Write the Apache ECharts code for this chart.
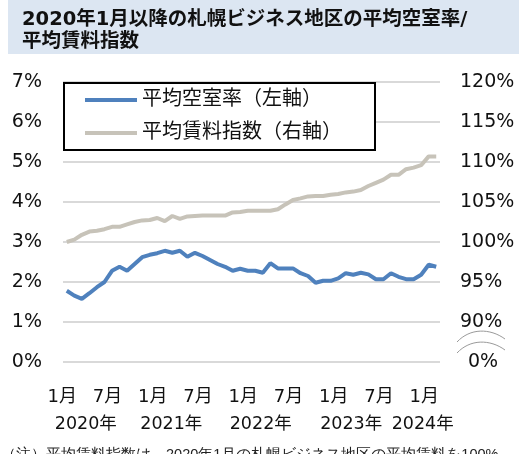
<!DOCTYPE html>
<html>
<head>
<meta charset="utf-8">
<script src="https://cdn.jsdelivr.net/npm/echarts@6/dist/echarts.min.js"></script>
<style>
  html, body { margin: 0; padding: 0; background: #fff; }
  #chart { width: 519px; height: 454px; }
</style>
</head>
<body>
<div id="chart"></div>
<script>
// 月次 2020/1 〜 2024/2
const months = [
  '2020/1','2020/2','2020/3','2020/4','2020/5','2020/6','2020/7','2020/8','2020/9','2020/10','2020/11','2020/12',
  '2021/1','2021/2','2021/3','2021/4','2021/5','2021/6','2021/7','2021/8','2021/9','2021/10','2021/11','2021/12',
  '2022/1','2022/2','2022/3','2022/4','2022/5','2022/6','2022/7','2022/8','2022/9','2022/10','2022/11','2022/12',
  '2023/1','2023/2','2023/3','2023/4','2023/5','2023/6','2023/7','2023/8','2023/9','2023/10','2023/11','2023/12',
  '2024/1','2024/2'
];
// 平均空室率（%）
const vacancy = [
  1.78, 1.66, 1.58, 1.72, 1.87, 2.00, 2.28, 2.38, 2.28, 2.45, 2.62, 2.68,
  2.72, 2.78, 2.73, 2.78, 2.63, 2.73, 2.65, 2.55, 2.45, 2.38, 2.28, 2.33,
  2.28, 2.28, 2.23, 2.47, 2.34, 2.34, 2.34, 2.22, 2.15, 1.98, 2.03, 2.03,
  2.09, 2.22, 2.18, 2.23, 2.19, 2.07, 2.07, 2.22, 2.13, 2.07, 2.07, 2.18,
  2.43, 2.38
];
// 平均賃料指数（2020年1月=100）
const rentIndex = [
  100.0, 100.3, 100.9, 101.3, 101.4, 101.6, 101.9, 101.9, 102.2, 102.5, 102.7, 102.75,
  103.0, 102.6, 103.25, 102.9, 103.2, 103.25, 103.3, 103.3, 103.3, 103.3, 103.7, 103.75,
  103.9, 103.9, 103.9, 103.9, 104.1, 104.7, 105.25, 105.45, 105.7, 105.75, 105.75, 105.9,
  106.0, 106.2, 106.3, 106.5, 107.0, 107.4, 107.8, 108.4, 108.4, 109.1, 109.3, 109.6,
  110.7, 110.7
];
const years = ['2020年', '2021年', '2022年', '2023年', '2024年'];
const seriesNames = ['平均空室率（左軸）', '平均賃料指数（右軸）'];

const FONT = "'DejaVu Sans', 'Noto Sans CJK JP', sans-serif";
const LINE_ICON = 'path://M0,0H52V4H0Z';
const chart = echarts.init(document.getElementById('chart'));

const option = {
  backgroundColor: '#fff',
  animation: false,
  textStyle: { fontFamily: FONT, color: '#111' },
  title: {
    text: '2020年1月以降の札幌ビジネス地区の平均空室率/\n平均賃料指数',
    left: 22,
    top: 9,
    padding: 0,
    textStyle: { fontSize: 19.5, fontWeight: 'bold', lineHeight: 22, color: '#111', fontFamily: FONT }
  },
  legend: {
    orient: 'vertical',
    left: 64,
    top: 83,
    padding: [7, 33, 7, 21],
    itemGap: 13,
    itemWidth: 52,
    itemHeight: 20,
    borderColor: '#000',
    borderWidth: 2,
    backgroundColor: '#fff',
    textStyle: { fontSize: 20, color: '#111', fontFamily: FONT },
    data: seriesNames.map((n) => ({ name: n, icon: LINE_ICON }))
  },
  grid: { left: 63, right: 79, top: 82, bottom: 92 },
  xAxis: {
    type: 'category',
    data: months,
    boundaryGap: true,
    axisLine: { show: false },
    axisTick: { show: false },
    axisLabel: {
      interval: (i) => i % 6 === 0,
      formatter: (v) => v.split('/')[1] + '月',
      fontSize: 18,
      margin: 26,
      padding: [0, 9, 0, 0],
      color: '#111'
    }
  },
  yAxis: [
    {
      type: 'value',
      min: 0,
      max: 7,
      interval: 1,
      axisLine: { show: false },
      axisTick: { show: false },
      axisLabel: { formatter: '{value}%', fontSize: 19, margin: 21, color: '#111' },
      splitLine: { lineStyle: { color: '#d9d9d9', width: 2 } }
    },
    {
      type: 'value',
      min: 85,
      max: 120,
      interval: 5,
      position: 'right',
      axisLine: { show: false },
      axisTick: { show: false },
      splitLine: { show: false },
      axisLabel: {
        fontSize: 19,
        margin: 20,
        color: '#111',
        formatter: (v) => (v === 85 ? '{z|0%}' : v + '%'),
        rich: { z: { fontSize: 19, color: '#111', padding: [0, 0, 0, 8] } }
      }
    }
  ],
  series: [
    {
      name: seriesNames[0],
      type: 'line',
      yAxisIndex: 0,
      data: vacancy,
      symbol: 'none',
      color: '#4f81bd',
      lineStyle: { width: 4, color: '#4f81bd' },
      z: 3
    },
    {
      name: seriesNames[1],
      type: 'line',
      yAxisIndex: 1,
      data: rentIndex,
      symbol: 'none',
      color: '#c7c3b9',
      lineStyle: { width: 4, color: '#c7c3b9' },
      z: 2
    }
  ],
  graphic: [
    { type: 'rect', z: -10, shape: { x: 8, y: 0, width: 511, height: 54 }, style: { fill: '#dce6f2' } },
    // 軸の省略記号
    {
      type: 'bezierCurve', shape: { x1: 457, y1: 342, x2: 505, y2: 339, cpx1: 470, cpy1: 328, cpx2: 490, cpy2: 328 },
      style: { stroke: '#9a9a9a', lineWidth: 1, fill: null }
    },
    {
      type: 'bezierCurve', shape: { x1: 457, y1: 353, x2: 505, y2: 350, cpx1: 470, cpy1: 339, cpx2: 490, cpy2: 339 },
      style: { stroke: '#9a9a9a', lineWidth: 1, fill: null }
    },
    {
      type: 'text', left: 1, top: 447,
      style: { text: '（注）平均賃料指数は、2020年1月の札幌ビジネス地区の平均賃料を100%', fontSize: 14.5, fill: '#222', font: '14.5px ' + FONT }
    }
  ]
};
chart.setOption(option);

// 年ラベル（各年の1月の位置から少しずらして置く）
const janIdx = [0, 12, 24, 36, 48];
const yearShift = [-12, -17, -18, -18, -6];
const yearGraphics = years.map((y, k) => {
  const px = chart.convertToPixel({ xAxisIndex: 0 }, janIdx[k]);
  const last = k === years.length - 1;
  return {
    type: 'text',
    x: px + yearShift[k],
    y: 424,
    style: {
      text: y,
      fontSize: 17.5,
      fontFamily: FONT,
      fill: '#111',
      align: last ? 'center' : 'left',
      verticalAlign: 'middle'
    }
  };
});
chart.setOption({ graphic: option.graphic.concat(yearGraphics) });
</script>
</body>
</html>
